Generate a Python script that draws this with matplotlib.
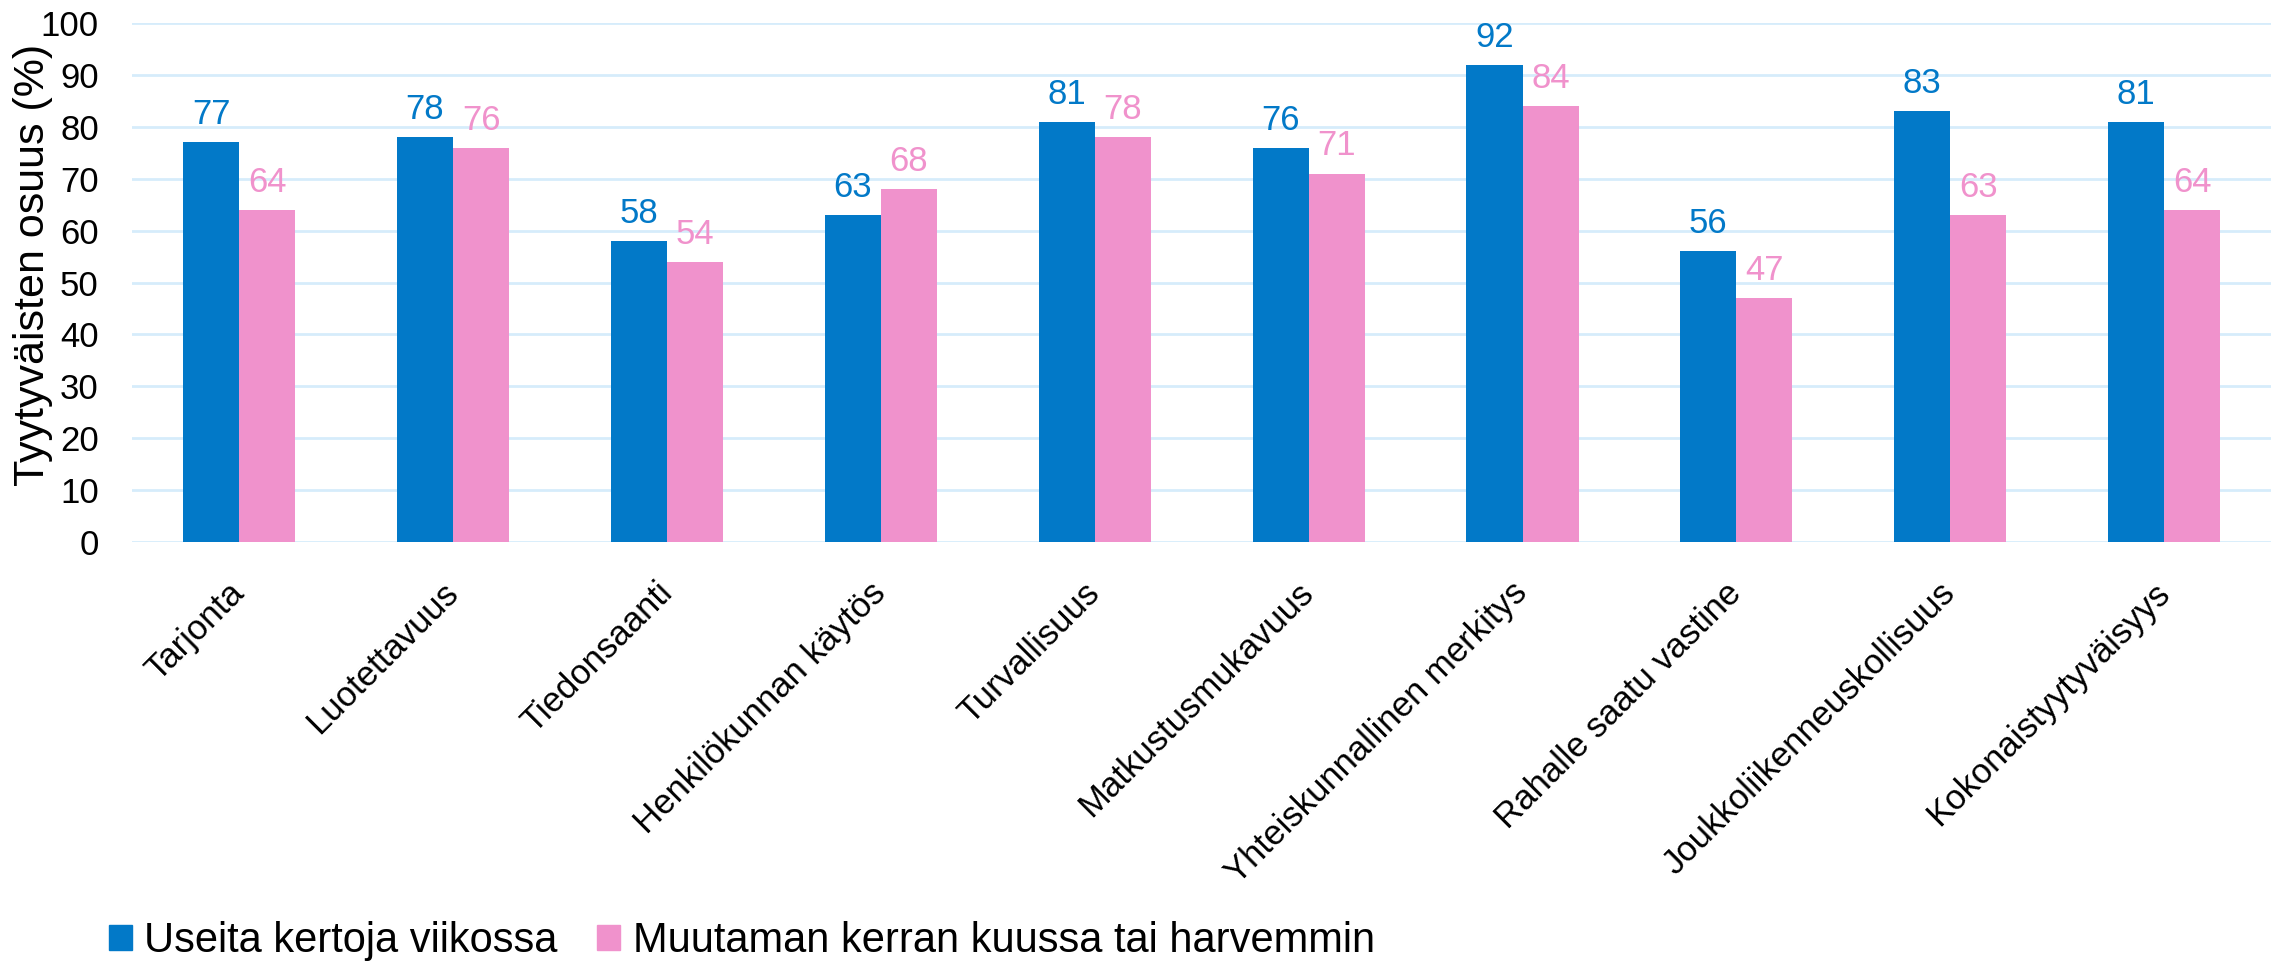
import numpy as np
import matplotlib
matplotlib.use("Agg")
import matplotlib.pyplot as plt
from matplotlib.patches import Patch

plt.rcParams['font.family'] = ['Liberation Sans', 'DejaVu Sans']

categories = ["Tarjonta", "Luotettavuus", "Tiedonsaanti", "Henkilökunnan käytös",
              "Turvallisuus", "Matkustusmukavuus", "Yhteiskunnallinen merkitys",
              "Rahalle saatu vastine", "Joukkoliikenneuskollisuus", "Kokonaistyytyväisyys"]
weekly = [77, 78, 58, 63, 81, 76, 92, 56, 83, 81]
monthly = [64, 76, 54, 68, 78, 71, 84, 47, 63, 64]
series_names = ["Useita kertoja viikossa", "Muutaman kerran kuussa tai harvemmin"]

blue = "#0279C8"
pink = "#F092CC"
grid_col = "#D6ECFB"
fs = 25

fig = plt.figure(figsize=(22.78, 9.63), dpi=100)
ax = fig.add_axes([0.058, 0.4372, 0.939, 0.5388])

x = np.arange(len(categories))
w = 0.262
b1 = ax.bar(x - w / 2, weekly, w, color=blue, zorder=3)
b2 = ax.bar(x + w / 2, monthly, w, color=pink, zorder=3)

# value labels above each bar
for bars, vals, col in [(b1, weekly, blue), (b2, monthly, pink)]:
    for rect, v in zip(bars, vals):
        ax.annotate(str(v), (rect.get_x() + rect.get_width() / 2, v), xytext=(0, 8),
                    textcoords="offset points", ha="center", va="bottom",
                    fontsize=fs, color=col)

ax.set_xlim(-0.5, len(categories) - 0.5)
ax.set_ylim(0, 100)
ax.set_yticks(range(0, 101, 10))
ax.yaxis.grid(True, color=grid_col, linewidth=2, zorder=0)
ax.set_axisbelow(True)
for s in ax.spines.values():
    s.set_visible(False)
ax.tick_params(axis="both", length=0, labelsize=fs)
ax.tick_params(axis="y", pad=24)
ax.tick_params(axis="x", pad=33)
ax.set_xticks(x)
ax.set_xticklabels(categories, rotation=45, ha="right", va="center", rotation_mode="anchor")
ax.set_ylabel("Tyytyväisten osuus (%)", fontsize=31)
ax.yaxis.set_label_coords(-0.037, 0.534)

handles = [Patch(color=blue), Patch(color=pink)]
fig.legend(handles, series_names, loc="center left", bbox_to_anchor=(0.0478, 0.023),
           ncol=2, frameon=False, fontsize=30, handlelength=0.55, handleheight=0.55,
           handletextpad=0.3, columnspacing=0.95, borderpad=0, borderaxespad=0)

fig.savefig("out.png", dpi=100)
